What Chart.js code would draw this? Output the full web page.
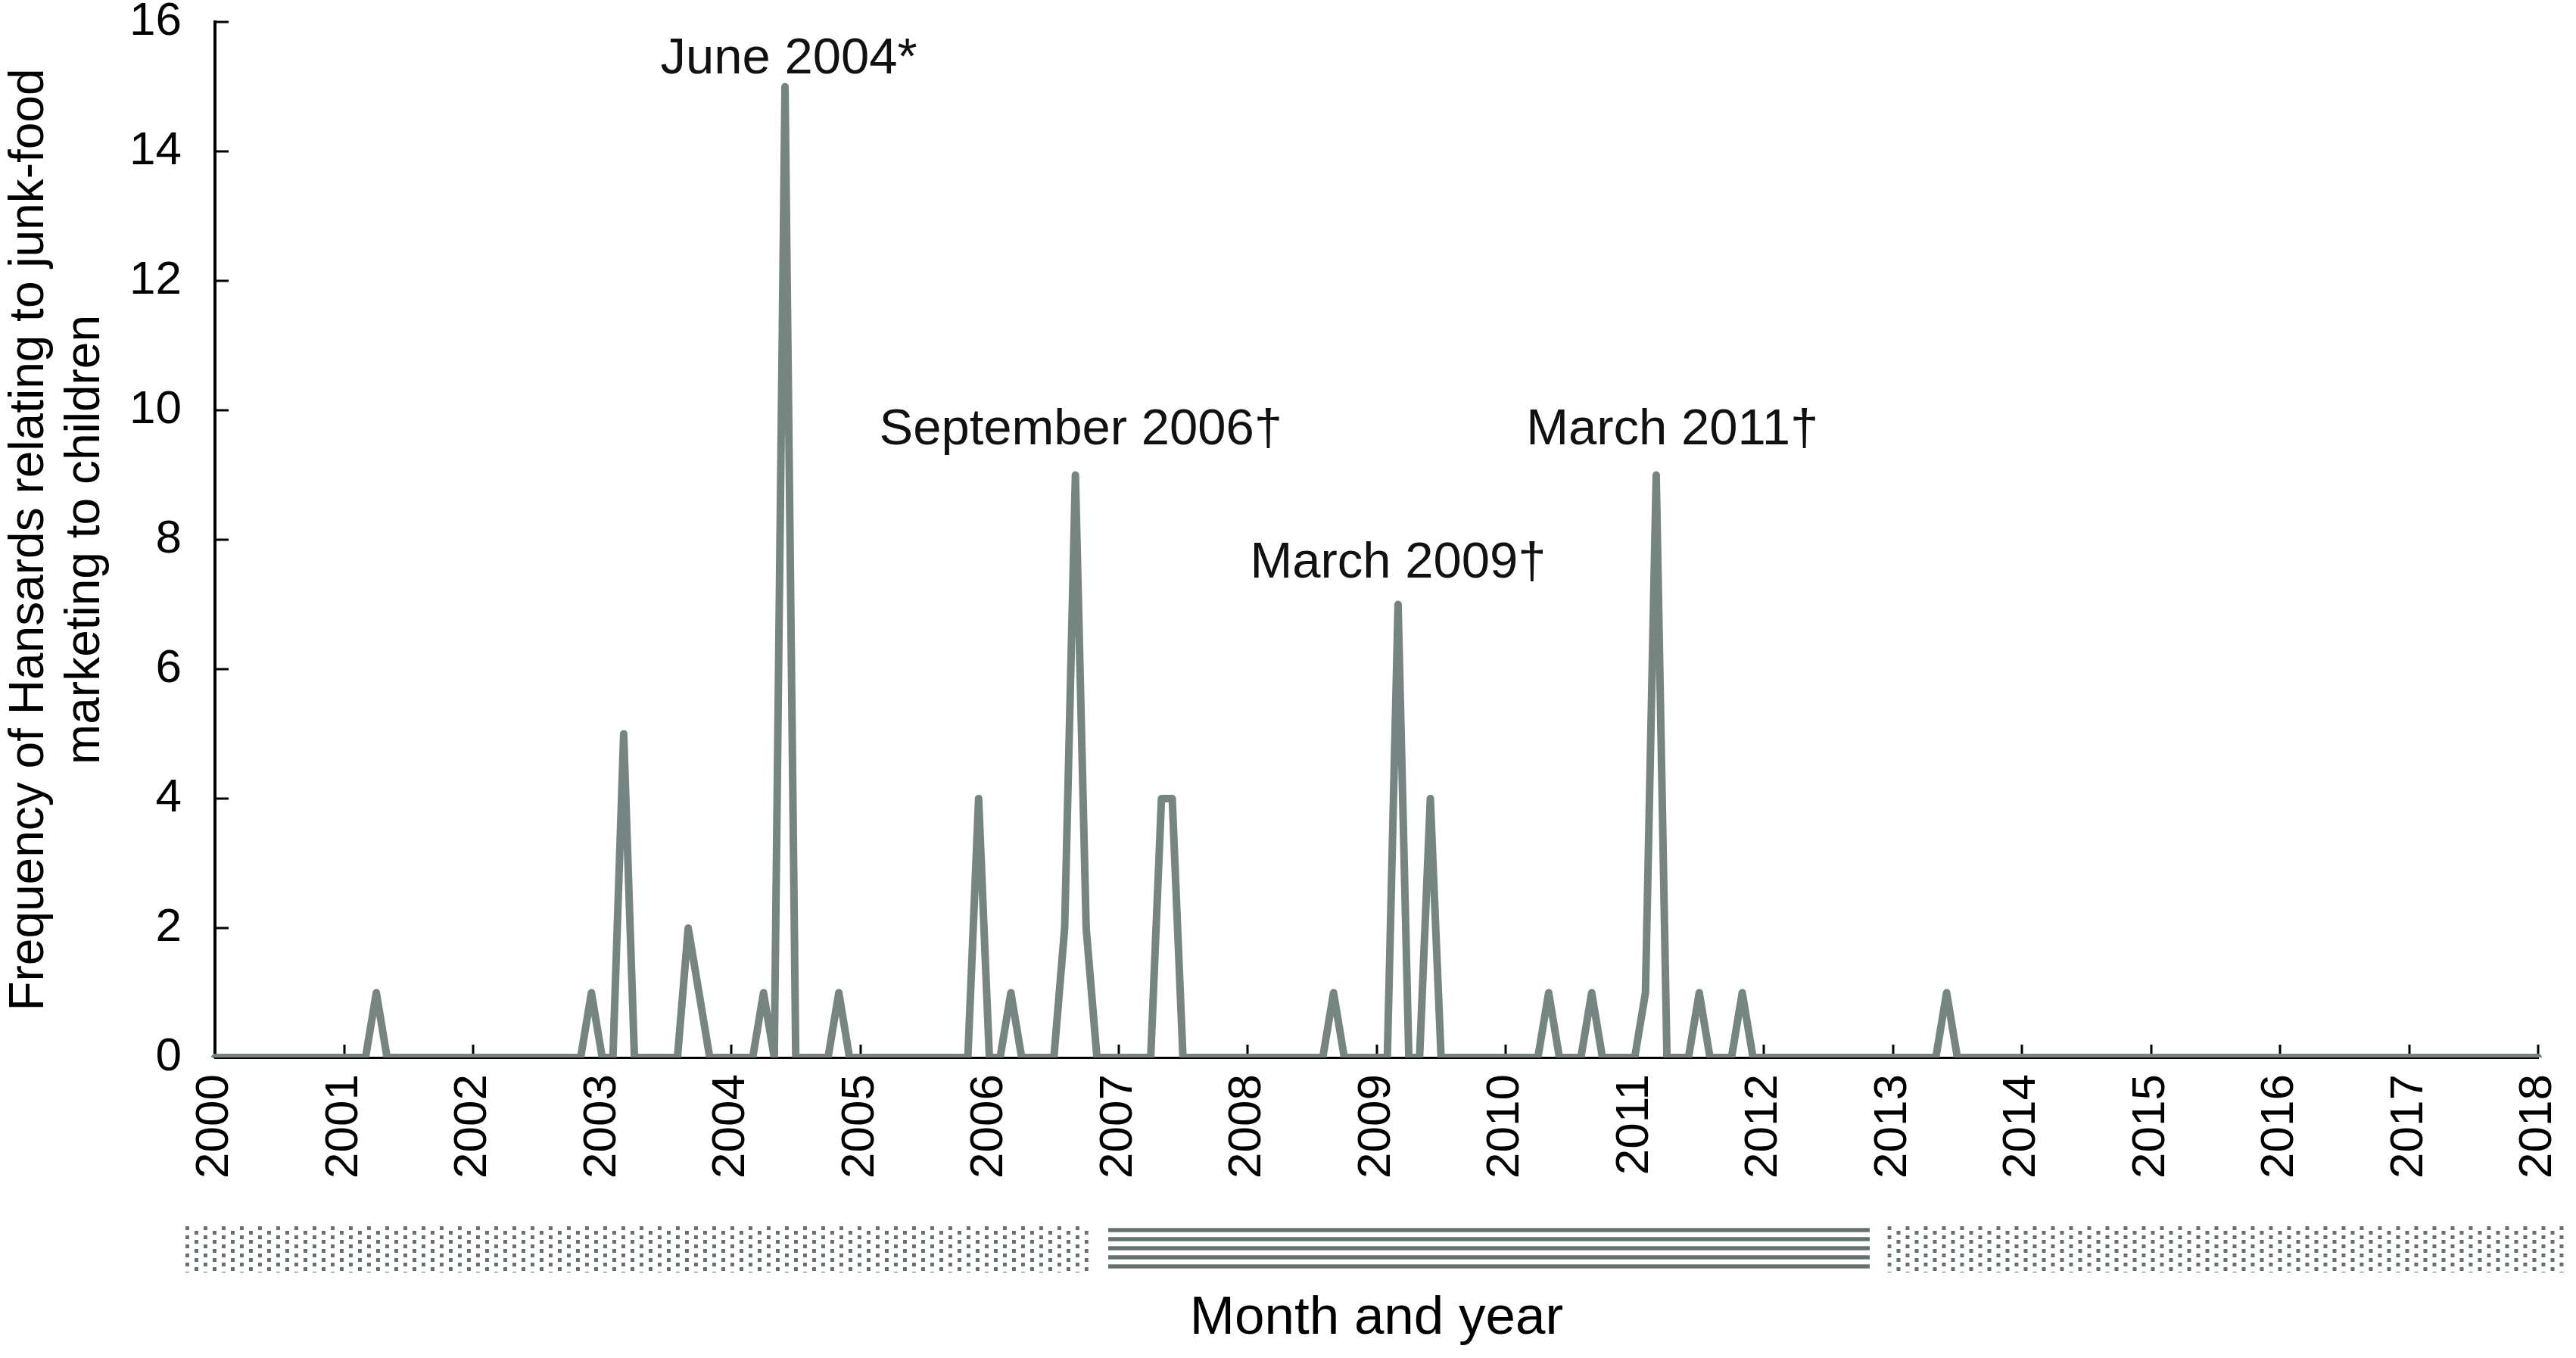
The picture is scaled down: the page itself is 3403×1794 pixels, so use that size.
<!DOCTYPE html>
<html>
<head>
<meta charset="utf-8">
<script src="https://cdn.jsdelivr.net/npm/chart.js@4/dist/chart.umd.min.js"></script>
<style>
html,body{margin:0;padding:0;background:#fff;}
#wrap{width:3403px;height:1794px;position:relative;}
</style>
</head>
<body>
<div id="wrap"><canvas id="c" width="3403" height="1794"></canvas></div>
<script>
// ---------- DATA ----------
const MONTHS = ['Jan','Feb','Mar','Apr','May','Jun','Jul','Aug','Sep','Oct','Nov','Dec'];
const YEARS = [2000,2001,2002,2003,2004,2005,2006,2007,2008,2009,2010,2011,2012,2013,2014,2015,2016,2017];
const TICK_YEARS = [2000,2001,2002,2003,2004,2005,2006,2007,2008,2009,2010,2011,2012,2013,2014,2015,2016,2017,2018];

// Monthly frequency of Hansards, Jan..Dec for each year
const COUNTS_2000 = [0,0,0,0,0,0,0,0,0,0,0,0];
const COUNTS_2001 = [0,0,0,1,0,0,0,0,0,0,0,0];
const COUNTS_2002 = [0,0,0,0,0,0,0,0,0,0,0,1];
const COUNTS_2003 = [0,0,5,0,0,0,0,0,2,1,0,0];
const COUNTS_2004 = [0,0,0,1,0,15,0,0,0,0,1,0];
const COUNTS_2005 = [0,0,0,0,0,0,0,0,0,0,0,4];
const COUNTS_2006 = [0,0,1,0,0,0,0,2,9,2,0,0];
const COUNTS_2007 = [0,0,0,0,4,4,0,0,0,0,0,0];
const COUNTS_2008 = [0,0,0,0,0,0,0,0,1,0,0,0];
const COUNTS_2009 = [0,0,7,0,0,4,0,0,0,0,0,0];
const COUNTS_2010 = [0,0,0,0,1,0,0,0,1,0,0,0];
const COUNTS_2011 = [0,1,9,0,0,0,1,0,0,0,1,0];
const COUNTS_2012 = [0,0,0,0,0,0,0,0,0,0,0,0];
const COUNTS_2013 = [0,0,0,0,0,1,0,0,0,0,0,0];
const COUNTS_2014 = [0,0,0,0,0,0,0,0,0,0,0,0];
const COUNTS_2015 = [0,0,0,0,0,0,0,0,0,0,0,0];
const COUNTS_2016 = [0,0,0,0,0,0,0,0,0,0,0,0];
const COUNTS_2017 = [0,0,0,0,0,0,0,0,0,0,0,0];
const COUNTS_2018_JAN = [0];

const Y_TICKS = [0,2,4,6,8,10,12,14,16];

const ANNOTATION_TEXT = ['June 2004*','September 2006\u2020','March 2009\u2020','March 2011\u2020'];
const ANNOTATION_MONTH = ['Jun 2004','Sep 2006','Mar 2009','Mar 2011'];

// Policy periods under the axis (in month-index units)
const PERIOD_START = [-2.75, 83.05, 155.5];
const PERIOD_END   = [81.2, 153.85, 218.7];
const PERIOD_KIND  = ['dots','stripes','dots'];

// ---------- BUILD ----------
const labels = [];
YEARS.forEach(y => MONTHS.forEach(m => labels.push(m + ' ' + y)));
labels.push('Jan 2018');
const counts = [].concat(COUNTS_2000,COUNTS_2001,COUNTS_2002,COUNTS_2003,COUNTS_2004,COUNTS_2005,
  COUNTS_2006,COUNTS_2007,COUNTS_2008,COUNTS_2009,COUNTS_2010,COUNTS_2011,COUNTS_2012,COUNTS_2013,
  COUNTS_2014,COUNTS_2015,COUNTS_2016,COUNTS_2017,COUNTS_2018_JAN);

const FONT = '"Liberation Sans", Arial, Helvetica, sans-serif';
Chart.defaults.font.family = FONT;
Chart.defaults.color = '#000';

// annotation placement (offsets in months / baseline value)
const ANN_DX = [0.35, 0.5, 0.0, 1.5];
const ANN_BASE = [15.2, 9.47, 7.42, 9.47];

const innerTicks = {
  id: 'innerTicks',
  beforeDatasetsDraw(chart) {
    const {ctx, chartArea, scales: {x, y}} = chart;
    ctx.save();
    ctx.strokeStyle = '#000';
    ctx.lineWidth = 3;
    ctx.beginPath();
    Y_TICKS.forEach(v => {
      const py = Math.round(y.getPixelForValue(v));
      ctx.moveTo(chartArea.left, py);
      ctx.lineTo(chartArea.left + 18, py);
    });
    TICK_YEARS.forEach((yr, i) => {
      const px = Math.round(x.getPixelForValue(i * 12));
      ctx.moveTo(px, chartArea.bottom);
      ctx.lineTo(px, chartArea.bottom - 17);
    });
    ctx.stroke();
    ctx.restore();
  }
};

const annotations = {
  id: 'annotations',
  afterDatasetsDraw(chart) {
    const {ctx, scales: {x, y}} = chart;
    ctx.save();
    ctx.fillStyle = '#111';
    ctx.font = '67px ' + FONT;
    ctx.textAlign = 'center';
    ctx.textBaseline = 'alphabetic';
    ANNOTATION_TEXT.forEach((t, i) => {
      const idx = labels.indexOf(ANNOTATION_MONTH[i]);
      const px = x.getPixelForValue(idx + ANN_DX[i]);
      const py = y.getPixelForValue(ANN_BASE[i]);
      ctx.fillText(t, px, py);
    });
    ctx.restore();
  }
};

function makeDotPattern(ctx) {
  const c = document.createElement('canvas');
  c.width = 24; c.height = 12;
  const g = c.getContext('2d');
  g.fillStyle = '#66716f';
  g.fillRect(0, 0, 5, 5);
  g.fillRect(12, 6, 5, 5);
  return ctx.createPattern(c, 'repeat');
}

const periods = {
  id: 'periods',
  afterDraw(chart) {
    const {ctx, scales: {x}} = chart;
    const top = 1620, bottom = 1681;
    ctx.save();
    PERIOD_START.forEach((s, i) => {
      const x0 = x.getPixelForValue(s);
      const x1 = x.getPixelForValue(PERIOD_END[i]);
      if (PERIOD_KIND[i] === 'dots') {
        ctx.save();
        ctx.translate(x0, top);
        ctx.fillStyle = makeDotPattern(ctx);
        ctx.fillRect(0, 0, x1 - x0, bottom - top);
        ctx.restore();
      } else {
        ctx.fillStyle = '#637170';
        for (let k = 0; k < 5; k++) {
          ctx.fillRect(x0, 1622.3 + k * 12, x1 - x0, 5.4);
        }
      }
    });
    ctx.restore();
  }
};

new Chart(document.getElementById('c'), {
  type: 'line',
  data: {
    labels: labels,
    datasets: [{
      data: counts,
      borderColor: '#768582',
      borderWidth: 10,
      pointRadius: 0,
      tension: 0,
      fill: false,
      borderCapStyle: 'round',
      borderJoinStyle: 'round'
    }]
  },
  options: {
    responsive: false,
    animation: false,
    devicePixelRatio: 1,
    layout: {padding: {top: 29, right: 50, left: 0, bottom: 0}},
    plugins: {legend: {display: false}, tooltip: {enabled: false}},
    scales: {
      x: {
        type: 'category',
        offset: false,
        grid: {display: false, drawTicks: false},
        border: {display: true, color: '#000', width: 3},
        ticks: {
          autoSkip: false,
          minRotation: 90,
          maxRotation: 90,
          padding: 22,
          font: {size: 62, family: FONT},
          color: '#000',
          callback: function(value, index) {
            return index % 12 === 0 ? String(TICK_YEARS[index / 12]) : null;
          }
        },
        title: {
          display: true,
          text: 'Month and year',
          font: {size: 71, family: FONT, lineHeight: 1.2},
          color: '#000',
          padding: {top: 0, bottom: 9}
        },
        afterFit(scale) {
          scale.height = 397;
          scale.paddingLeft = 0;
          scale.paddingRight = 0;
        }
      },
      y: {
        min: 0,
        max: 16,
        grid: {display: false, drawTicks: false},
        border: {display: true, color: '#000', width: 4},
        ticks: {
          stepSize: 2,
          padding: 44,
          font: {size: 62, family: FONT},
          color: '#000'
        },
        title: {
          display: true,
          text: ['Frequency of Hansards relating to junk-food', 'marketing to children'],
          font: {size: 64, family: FONT, lineHeight: 1.16},
          color: '#000',
          padding: {top: 2, bottom: 0}
        },
        afterFit(scale) {
          scale.width = 284;
          scale.paddingTop = 0;
          scale.paddingBottom = 0;
        }
      }
    }
  },
  plugins: [innerTicks, annotations, periods]
});
</script>
</body>
</html>
